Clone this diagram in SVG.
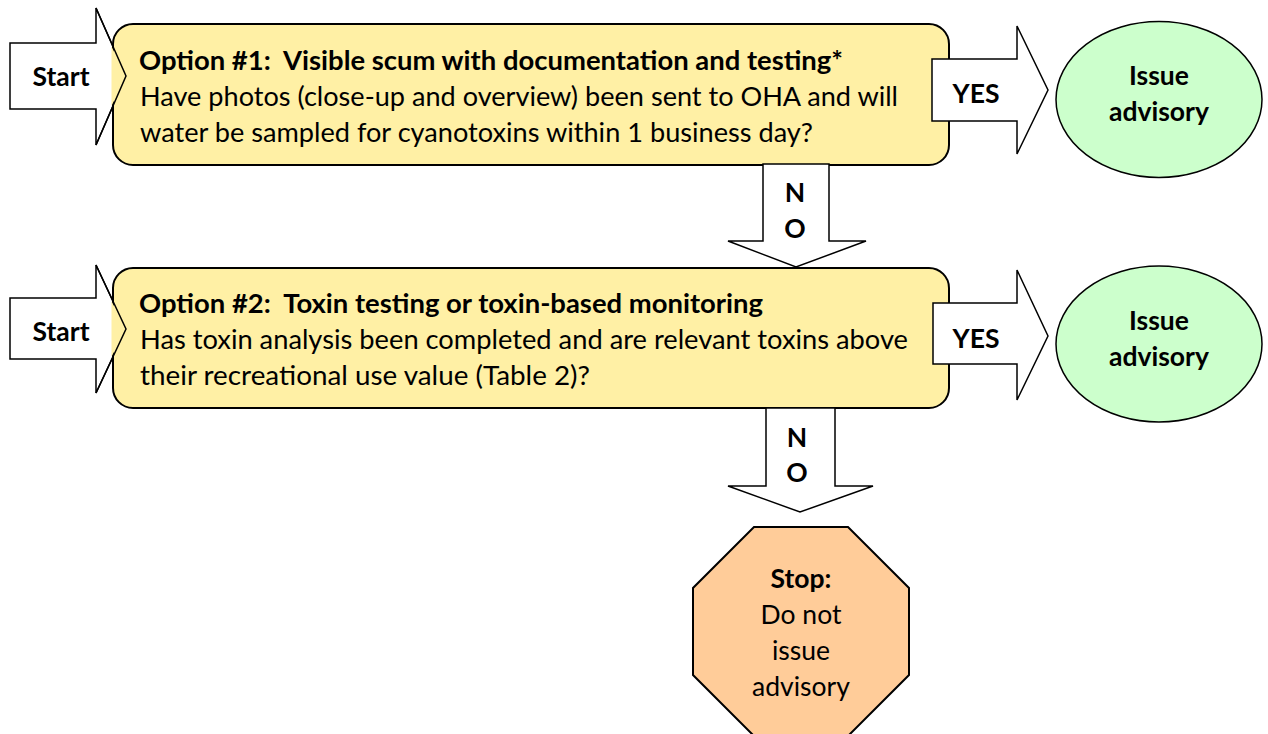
<svg xmlns="http://www.w3.org/2000/svg" width="1268" height="734" viewBox="0 0 1268 734">
<style>
.arrow{fill:#fff;stroke:#000;stroke-width:1.5;stroke-linejoin:miter}
.box{fill:#FFF0A5;stroke:#000;stroke-width:2}
.patch{fill:#FFF0A5;stroke:none}
.edge{fill:none;stroke:#000;stroke-width:1.5;stroke-linejoin:miter}
.oval{fill:#CCFFCC;stroke:#000;stroke-width:1.5}
.stop{fill:#FFCC99;stroke:#000;stroke-width:2}
text{font-family:Lato,"Liberation Sans",sans-serif;font-size:26.5px;fill:#000;white-space:pre}
.b{font-weight:bold}
.c{text-anchor:middle}
</style>
<rect width="1268" height="734" fill="#fff"/>

<g id="start1">
<polygon class="arrow" points="10,43 96,43 96,8 126,76 96,145 96,109 10,109"/>
<text class="b c" x="61" y="86">Start</text>
</g>
<g id="start2">
<polygon class="arrow" points="10,298 96,298 96,265 126,329 96,393 96,359 10,359"/>
<text class="b c" x="61" y="341">Start</text>
</g>

<g id="option1">
<rect class="box" x="113" y="24" width="836" height="141" rx="20" ry="20"/>
<polygon class="patch" points="111.5,46.5 126,76 111.5,105.9"/>
<polyline class="edge" points="96,8 126,76 96,145"/>
<text class="b" x="139" y="69.5" textLength="704" lengthAdjust="spacingAndGlyphs">Option #1:  Visible scum with documentation and testing*</text>
<text x="140" y="105.5" textLength="758" lengthAdjust="spacingAndGlyphs">Have photos (close-up and overview) been sent to OHA and will</text>
<text x="140" y="141.5" textLength="673" lengthAdjust="spacingAndGlyphs">water be sampled for cyanotoxins within 1 business day?</text>
</g>

<g id="option2">
<rect class="box" x="113" y="268" width="836" height="140" rx="20" ry="20"/>
<polygon class="patch" points="111.5,301.3 126,329 111.5,356.7"/>
<polyline class="edge" points="96,265 126,329 96,393"/>
<text class="b" x="139" y="313" textLength="624" lengthAdjust="spacingAndGlyphs">Option #2:  Toxin testing or toxin-based monitoring</text>
<text x="140" y="349" textLength="768" lengthAdjust="spacingAndGlyphs">Has toxin analysis been completed and are relevant toxins above</text>
<text x="140" y="385" textLength="450" lengthAdjust="spacingAndGlyphs">their recreational use value (Table 2)?</text>
</g>

<g id="advisory1">
<ellipse class="oval" cx="1159" cy="99.5" rx="103" ry="78"/>
<text class="b c" x="1159" y="84.5">Issue</text>
<text class="b c" x="1159" y="120.5">advisory</text>
</g>

<g id="advisory2">
<ellipse class="oval" cx="1159" cy="344" rx="103" ry="78"/>
<text class="b c" x="1159" y="329.5">Issue</text>
<text class="b c" x="1159" y="365.5">advisory</text>
</g>

<g id="stop">
<polygon class="stop" points="754,527 848,527 909,588 909,675 848,736 754,736 693,675 693,588"/>
<text class="b c" x="801" y="588">Stop:</text>
<text class="c" x="801" y="624">Do not</text>
<text class="c" x="801" y="660">issue</text>
<text class="c" x="801" y="696">advisory</text>
</g>

<g id="connectors">
<g id="yes1">
<polygon class="arrow" points="932,59 1017,59 1017,26 1048,90 1017,154 1017,121 932,121"/>
<text class="b c" x="976" y="103">YES</text>
</g>
<g id="yes2">
<polygon class="arrow" points="933,303 1017,303 1017,270 1048,336 1017,400 1017,364 933,364"/>
<text class="b c" x="976" y="347.5">YES</text>
</g>
<g id="no1">
<polygon class="arrow" points="763,164 829,164 829,241 866,241 796,267 728,241 763,241"/>
<text class="b c" x="795" y="202">N</text>
<text class="b c" x="795" y="238">O</text>
</g>
<g id="no2">
<polygon class="arrow" points="766,408 835,408 835,486 873,486 800,512 728,486 766,486"/>
<text class="b c" x="797" y="447">N</text>
<text class="b c" x="797" y="482">O</text>
</g>
</g>
</svg>
